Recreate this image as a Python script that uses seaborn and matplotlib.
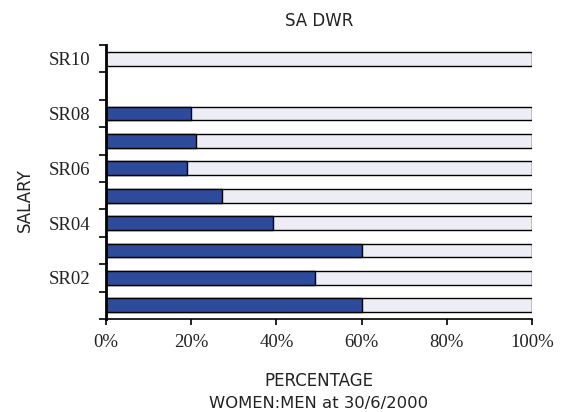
import numpy as np
import pandas as pd
import matplotlib
matplotlib.use("Agg")
import matplotlib.pyplot as plt
import seaborn as sns

# --- data (women's share, %) ---
grades = ['SR10', 'SR09', 'SR08', 'SR07', 'SR06', 'SR05', 'SR04', 'SR03', 'SR02', 'SR01']
women_pct = [0, np.nan, 20, 21.2, 19, 27.3, 39.3, 60, 49, 60]
total_pct = [100, np.nan, 100, 100, 100, 100, 100, 100, 100, 100]
shown_labels = ['SR10', '', 'SR08', '', 'SR06', '', 'SR04', '', 'SR02', '']
x_ticks = [0, 20, 40, 60, 80, 100]

WOMEN_COLOR = '#2E4A9A'
MEN_COLOR = '#EDEDF6'
TEXT_COLOR = '#222222'
SANS = 'DejaVu Sans'
SERIF = 'Liberation Serif'

df = pd.DataFrame({'Grade': grades, 'Women': women_pct, 'Total': total_pct})

sns.set_style('ticks')
fig, ax = plt.subplots(figsize=(5.68, 4.12), dpi=100)
fig.subplots_adjust(left=0.1866, right=0.9366, top=0.8908, bottom=0.2257)

# men bar drawn full width, women on top of it
sns.barplot(data=df, y='Grade', x='Total', order=grades, color=MEN_COLOR,
            edgecolor='black', linewidth=1, width=0.5, saturation=1, ax=ax)
sns.barplot(data=df[df['Women'] > 0], y='Grade', x='Women', order=grades,
            color=WOMEN_COLOR, edgecolor='black', linewidth=1, width=0.5,
            saturation=1, ax=ax)

ax.set_xlim(0, 100)
ax.set_ylim(len(grades) - 0.5, -0.5)
ax.set_xticks(x_ticks)
ax.set_xticklabels([f'{v}%' for v in x_ticks], family=SERIF, fontsize=13.5,
                   color=TEXT_COLOR)
ax.set_yticks(range(len(grades)))
ax.set_yticklabels(shown_labels, family=SERIF, fontsize=13.5, color=TEXT_COLOR)
ax.set_yticks(np.arange(-0.5, len(grades), 1), minor=True)
ax.tick_params(axis='y', which='major', length=0, pad=11)
ax.tick_params(axis='y', which='minor', length=5, width=1.2, color='black')
ax.tick_params(axis='x', length=4, width=1.2, color='black', pad=6.5)

sns.despine(ax=ax)
ax.spines['left'].set_linewidth(2)
ax.spines['bottom'].set_linewidth(1.2)
ax.spines['left'].set_color('black')
ax.spines['bottom'].set_color('black')

ax.set_title('SA DWR', family=SANS, fontsize=12, pad=13.7, color=TEXT_COLOR)
ax.set_ylabel('SALARY', family=SANS, fontsize=12, color=TEXT_COLOR, va='center')
ax.yaxis.set_label_coords(0.0431, 0.5146, transform=fig.transFigure)
ax.set_xlabel('PERCENTAGE', family=SANS, fontsize=12, color=TEXT_COLOR, va='center')
ax.xaxis.set_label_coords(0.5616, 0.075, transform=fig.transFigure)
fig.text(0.5616, 0.021, 'WOMEN:MEN at 30/6/2000', family=SANS, fontsize=11.8,
         ha='center', va='center', color=TEXT_COLOR)

fig.savefig('out.png', dpi=100)
